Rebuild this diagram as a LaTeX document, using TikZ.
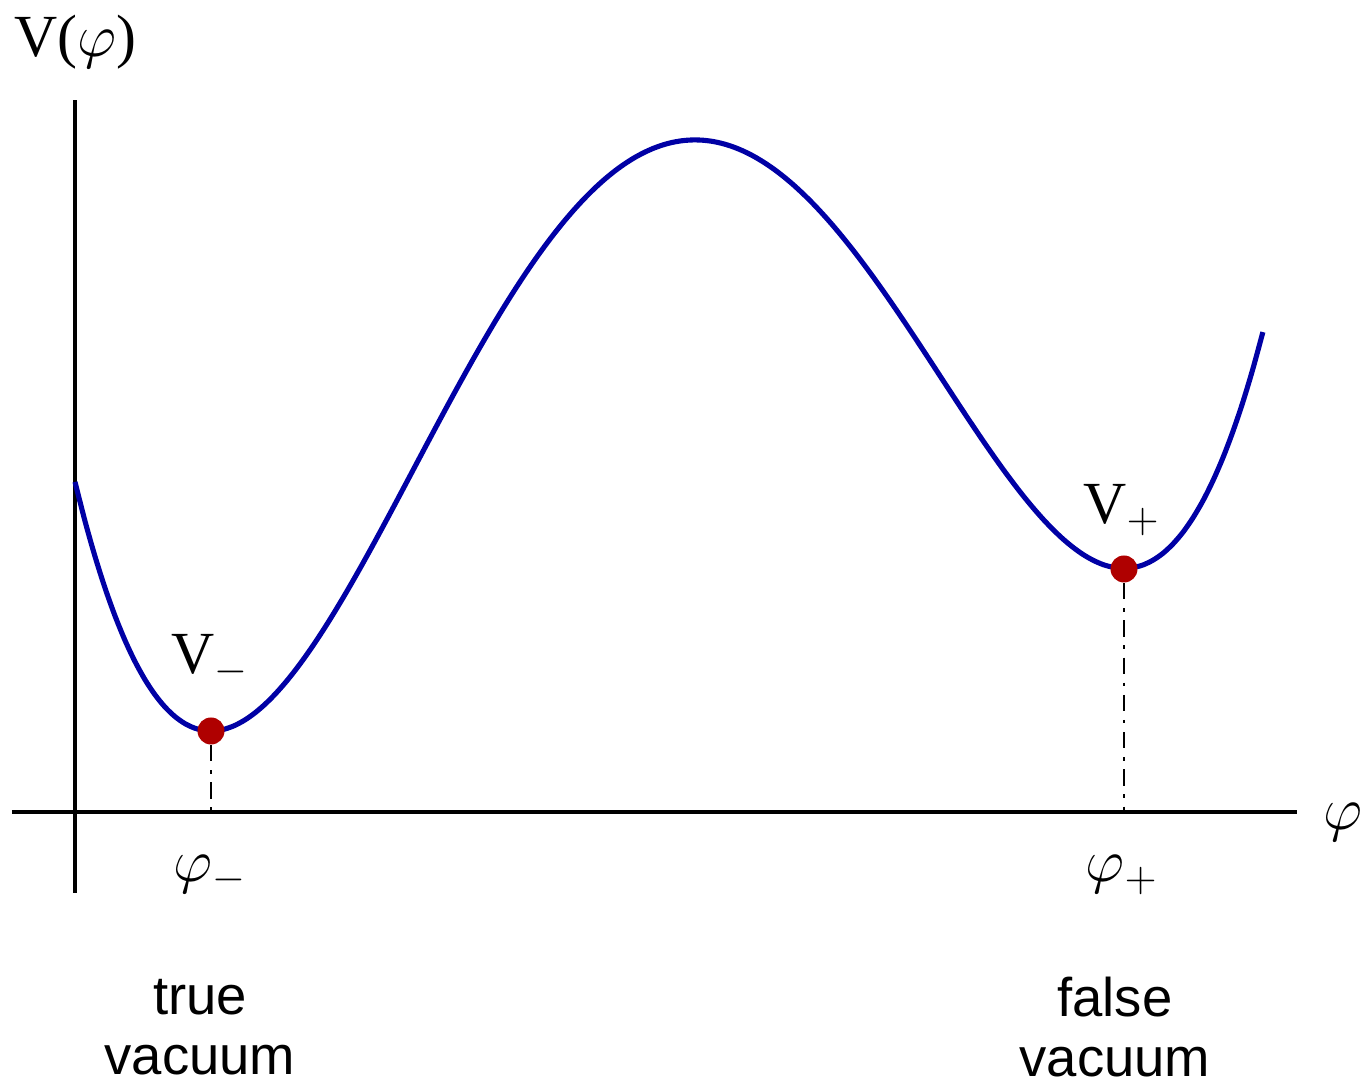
\documentclass[tikz,border=0pt]{standalone}
\usepackage{fontspec}
\setmainfont{Liberation Serif}
\newfontfamily\labelfont{Liberation Sans}
\usepackage{xcolor}
\usetikzlibrary{positioning, calc}
\definecolor{curveblue}{RGB}{0,0,165}
\definecolor{dotred}{RGB}{175,0,0}
\tikzset{
  axisline/.style={line width=1.2pt, black},
  potcurve/.style={line width=1.45pt, color=curveblue},
  vacdot/.style={circle, fill=dotred, inner sep=0pt, minimum size=0.27cm},
  guideline/.style={line width=0.45pt, dash pattern=on 4.6pt off 2.5pt on 1pt off 2.5pt},
  mathlabel/.style={font=\fontsize{17}{20}\selectfont, inner sep=1pt},
  vaclabel/.style={font=\labelfont\fontsize{15.5}{17}\selectfont, align=center},
}

\begin{document}
\begin{tikzpicture}
  \useasboundingbox (-0.75,-2.73) rectangle (12.86,8.12);

  % Axes
  \coordinate (yaxbot) at (0,-0.81);
  \coordinate (yaxtop) at (0,7.12);
  \coordinate (xaxleft) at (-0.63,0);
  \coordinate (xaxright) at (12.22,0);
  \draw[axisline] (yaxbot) -- (yaxtop);
  \draw[axisline] (xaxleft) -- (xaxright);

  % Potential V(phi), quartic through the two minima and the maximum
  \draw[potcurve, smooth, samples=120, domain=0:11.88]
    plot (\x, {0.04662*((((\x/4-6.01667)*\x+43.8682)*\x-88.4517)*\x)+3.301});

  % Vacua
  \node[vacdot] (vminus) at (1.36,0.81) {};
  \node[vacdot] (vplus) at (10.49,2.43) {};
  \coordinate (phiminus) at (1.36,0);
  \coordinate (phiplus) at (10.49,0);
  \draw[guideline] (vminus) -- (phiminus);
  \draw[guideline] (vplus) -- (phiplus);

  % Labels
  \node[mathlabel] (vlab) at (0,7.70) {V($\varphi$)};
  \node[mathlabel] (philab) at (12.68,-0.10) {$\varphi$};
  \node[mathlabel] (vmlab) at (1.35,1.52) {V$_{-}$};
  \node[mathlabel] (vplab) at (10.47,3.02) {V$_{+}$};
  \node[mathlabel] (pmlab) at (1.35,-0.63) {$\varphi_{-}$};
  \node[mathlabel] (pplab) at (10.47,-0.63) {$\varphi_{+}$};
  \node[vaclabel] (truevac) at (1.25,-2.15) {true\\vacuum};
  \node[vaclabel] (falsevac) at (10.40,-2.15) {false\\vacuum};
\end{tikzpicture}
\end{document}
